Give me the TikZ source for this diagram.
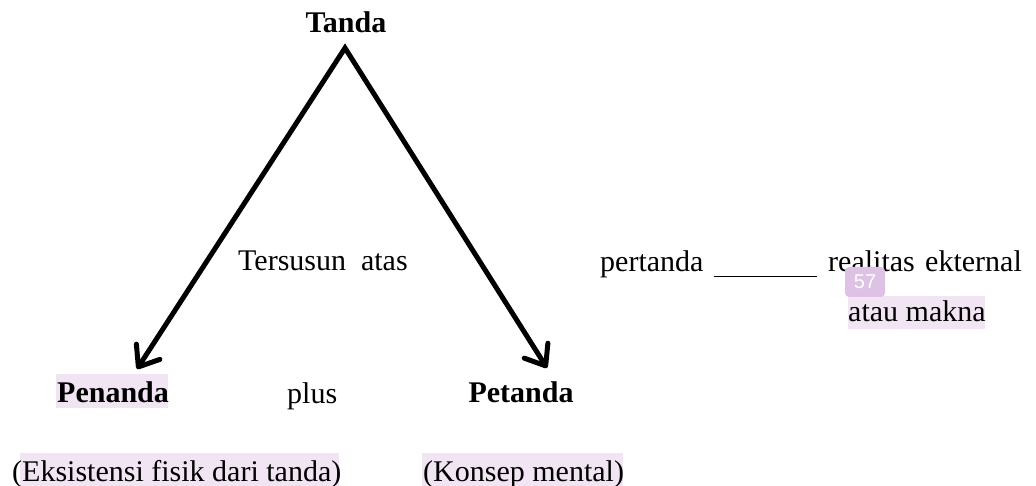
\documentclass[tikz,border=0pt]{standalone}
\usepackage{fontspec}
\setmainfont{Liberation Serif}
\newfontfamily\badgefont{Liberation Sans}
\usetikzlibrary{arrows.meta}
\definecolor{hl}{HTML}{F1E5F3}
\definecolor{badgecol}{HTML}{DDC2E6}
\begin{document}
\begin{tikzpicture}[x=1pt,y=-1pt,
  txt/.style={inner sep=0pt, font=\fontsize{30}{36}\selectfont},
  boldtxt/.style={inner sep=0pt, font=\fontsize{30}{36}\selectfont\bfseries},
  hlbox/.style={fill=hl, draw=none},
  arrowline/.style={line width=5pt, line join=miter,
    {Straight Barb[length=18pt,width=28pt,round]}-{Straight Barb[length=18pt,width=28pt,round]}},
  blank/.style={line width=1.6pt},
  badgebox/.style={fill=badgecol, rounded corners=4pt, inner sep=0pt,
    minimum width=40pt, minimum height=30pt, text=white,
    font=\badgefont\fontsize{20}{24}\selectfont}]
\useasboundingbox (0,0) rectangle (1036,486);
% highlights
\fill[hlbox] (56,374) rectangle (168,408);
\fill[hlbox] (20,453) rectangle (339,486);
\fill[hlbox] (422,453) rectangle (623,486);
\fill[hlbox] (848,296) rectangle (985,329);
% nodes
\node[boldtxt, anchor=base] (tanda) at (346,33) {Tanda};
\coordinate (apex) at (345,48);
\coordinate (tipL) at (137,369);
\coordinate (tipR) at (547,368);
\draw[arrowline] (tipL) -- (apex) -- (tipR);
\node[txt, anchor=base west] (tersusun) at (238,271) {Tersusun\ \ atas};
\node[txt, anchor=base west] (pertanda) at (600,272) {pertanda};
\node[txt, anchor=base west] (realitas) at (828,272) {realitas};
\node[txt, anchor=base west] (ekternal) at (925,272) {ekternal};
\draw[blank] ([xshift=10pt,yshift=-4.5pt]pertanda.base east) -- ([xshift=-11pt,yshift=-4.5pt]realitas.base west);
\node[txt, anchor=base west] (makna) at (848,322) {atau makna};
\node[badgebox] (badge) at (865,282) {57};
\node[boldtxt, anchor=base west] (penanda) at (57,402) {Penanda};
\node[txt, anchor=base west] (plus) at (287,403) {plus};
\node[boldtxt, anchor=base] (petanda) at (521,402) {Petanda};
\node[txt, anchor=base west] (eksistensi) at (12,481) {(Eksistensi fisik dari tanda)};
\node[txt, anchor=base west] (konsep) at (423,481) {(Konsep mental)};
\end{tikzpicture}
\end{document}
